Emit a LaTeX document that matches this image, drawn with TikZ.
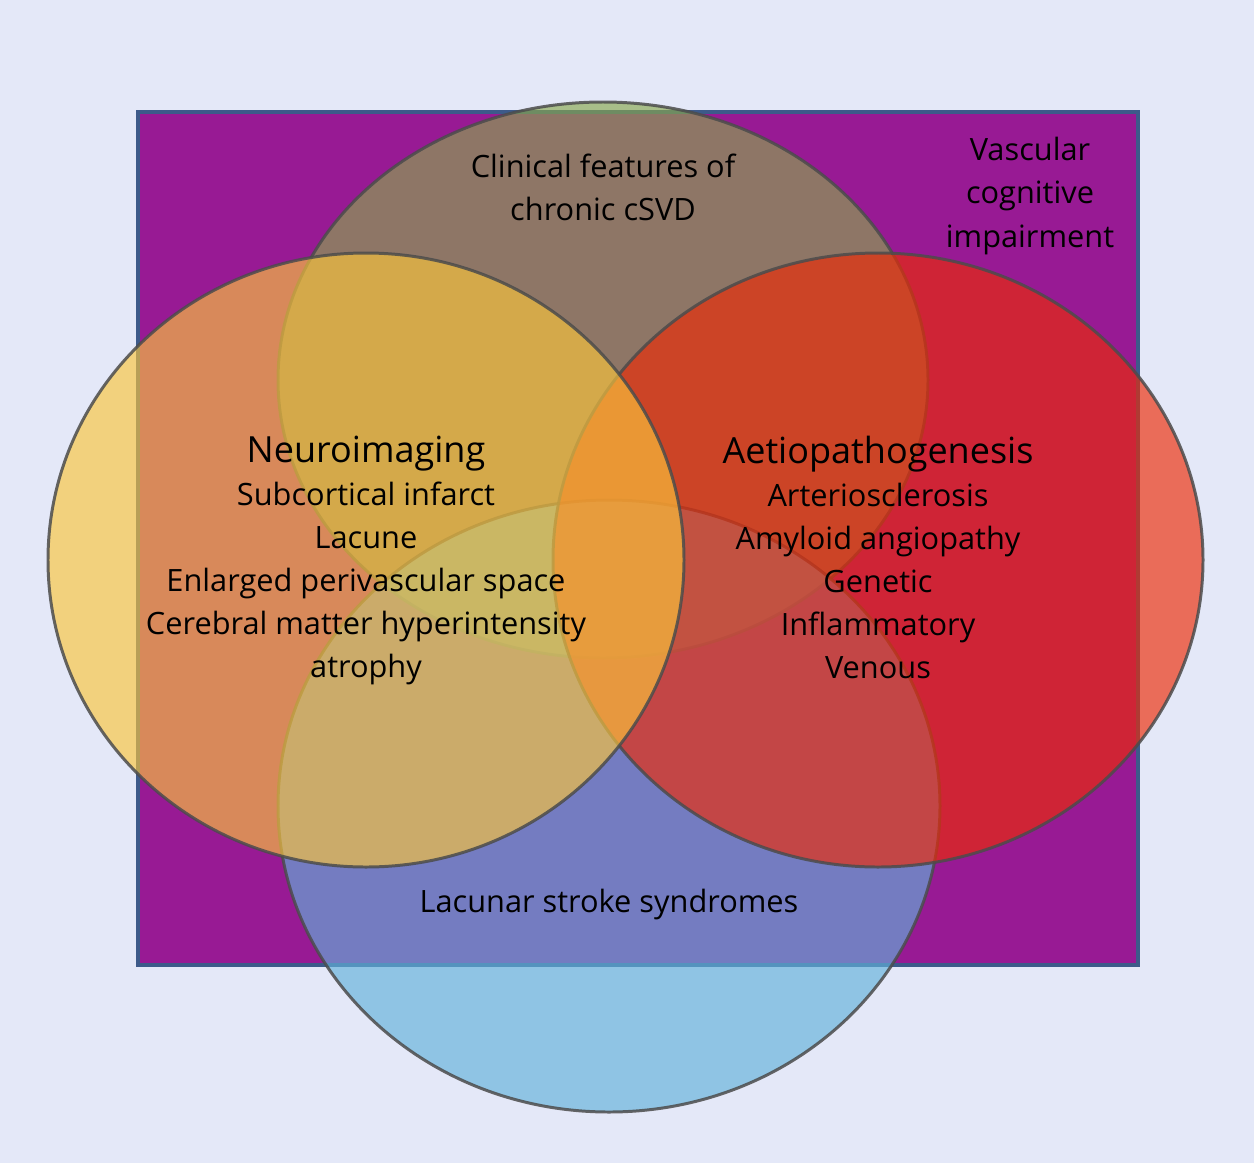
\documentclass[tikz,border=0pt]{standalone}
\usepackage{fontspec}
\setmainfont{Open Sans}
\begin{document}
\definecolor{bgc}{RGB}{228,232,248}
\definecolor{purp}{RGB}{152,26,148}
\definecolor{rectb}{RGB}{61,90,138}
\definecolor{cgreen}{RGB}{137,168,78}
\definecolor{cyellow}{RGB}{251,197,60}
\definecolor{cred}{RGB}{238,42,5}
\definecolor{cblue}{RGB}{98,178,218}
\begin{tikzpicture}[x=0.02cm,y=-0.02cm,
  set/.style={draw=black!70,line width=1.7pt,fill opacity=0.65,draw opacity=0.85},
  lab/.style={font=\fontsize{17.5}{24.5}\selectfont,align=center,text=black}]
\fill[bgc] (0,0) rectangle (1254,1163);
\useasboundingbox (0,0) rectangle (1254,1163);
\draw[rectb,line width=2pt,fill=purp] (138,112) rectangle (1138,965);
\path[set,fill=cgreen] (603,380) ellipse [x radius=325,y radius=278];
\path[set,fill=cblue] (609,806) ellipse [x radius=331,y radius=306];
\path[set,fill=cred] (878,560) ellipse [x radius=325,y radius=307];
\path[set,fill=cyellow] (366,560) ellipse [x radius=318,y radius=307];
\node[lab] (clin) at (603,187) {Clinical features of\\chronic cSVD};
\node[lab] (vci) at (1030,196) {Vascular\\cognitive\\impairment};
\node[lab] (lac) at (609,904) {Lacunar stroke syndromes};
\node[lab,anchor=north] (neuro) at (366,430) {{\fontsize{20.5}{24.5}\selectfont Neuroimaging}\\Subcortical infarct\\Lacune\\Enlarged perivascular space\\Cerebral matter hyperintensity\\atrophy};
\node[lab,anchor=north] (aet) at (878,430) {{\fontsize{20.5}{24.5}\selectfont Aetiopathogenesis}\\Arteriosclerosis\\Amyloid angiopathy\\Genetic\\Inflammatory\\Venous};
\end{tikzpicture}
\end{document}
